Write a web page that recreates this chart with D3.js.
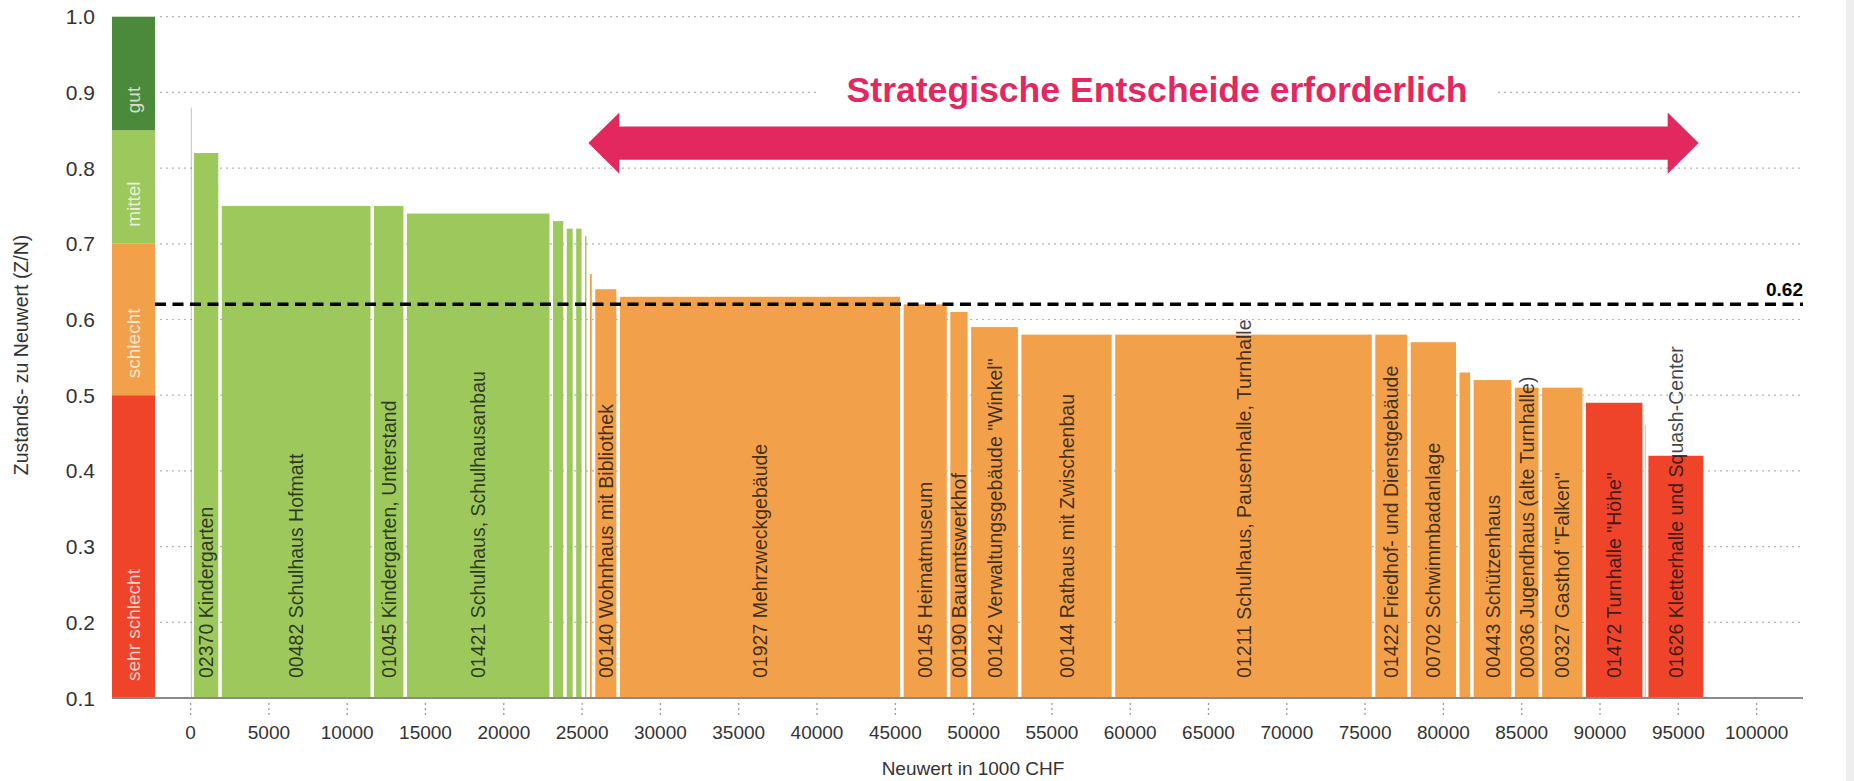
<!DOCTYPE html>
<html>
<head>
<meta charset="utf-8">
<script src="https://cdn.jsdelivr.net/npm/d3@7"></script>
<style>
  body { margin: 0; background: #fff; }
  svg { display: block; font-family: "Liberation Sans", Arial, sans-serif; }
</style>
</head>
<body>
<svg width="1854" height="781"></svg>
<script>
// Objekte, sortiert nach Zustands- zu Neuwert
const names = ["", "02370 Kindergarten", "00482 Schulhaus Hofmatt", "01045 Kindergarten, Unterstand",
  "01421 Schulhaus, Schulhausanbau", "", "", "", "", "", "00140 Wohnhaus mit Bibliothek",
  "01927 Mehrzweckgebäude", "00145 Heimatmuseum", "00190 Bauamtswerkhof",
  "00142 Verwaltungsgebäude \"Winkel\"", "00144 Rathaus mit Zwischenbau",
  "01211 Schulhaus, Pausenhalle, Turnhalle", "01422 Friedhof- und Dienstgebäude",
  "00702 Schwimmbadanlage", "", "00443 Schützenhaus", "00036 Jugendhaus (alte Turnhalle)",
  "00327 Gasthof \"Falken\"", "01472 Turnhalle \"Höhe\"", "", "01626 Kletterhalle und Squash-Center"];
// Neuwert in 1000 CHF
const neuwert = [100, 1780, 9720, 2100, 9330, 880, 600, 565, 315, 340, 1570, 18120, 2980, 1330,
  3210, 5990, 16610, 2260, 3120, 900, 2630, 1740, 2800, 3830, 160, 3730];
// Zustands- zu Neuwert (Z/N)
const zn = [0.88, 0.82, 0.75, 0.75, 0.74, 0.73, 0.72, 0.72, 0.71, 0.66, 0.64, 0.63, 0.62, 0.61,
  0.59, 0.58, 0.58, 0.58, 0.57, 0.53, 0.52, 0.51, 0.51, 0.49, 0.46, 0.42];

// Zustandsklassen
const classNames = ["sehr schlecht", "schlecht", "mittel", "gut"];
const classBounds = [0.1, 0.5, 0.7, 0.85, 1.0];
const classColors = ["#ef4429", "#f3a04a", "#9dc95c", "#4c8a3b"];

const avgValue = 0.62;
const xTicks = d3.range(0, 100001, 5000);
const yTicks = [0.1, 0.2, 0.3, 0.4, 0.5, 0.6, 0.7, 0.8, 0.9, 1.0];
const arrowFrom = 25400, arrowTo = 96300, arrowLevel = 0.833;
const title = "Strategische Entscheide erforderlich";
const pink = "#e3285f";

const svg = d3.select("svg");
const x = d3.scaleLinear().domain([0, 100000]).range([190.6, 1756.6]);
const y = d3.scaleLinear().domain([0.1, 1.0]).range([698, 16.7]);
const color = d3.scaleThreshold().domain(classBounds.slice(1, 4)).range(classColors);
const plotRight = 1803;

// build bars with cumulative start
let acc = 0;
const bars = names.map((n, i) => {
  const b = { name: n, x0: acc, x1: acc + neuwert[i], v: zn[i] };
  acc += neuwert[i];
  return b;
});

// right border strip
svg.append("rect").attr("x", 1846).attr("y", 0).attr("width", 8).attr("height", 781).attr("fill", "#eeeeee");

// gridlines
svg.append("g").selectAll("line")
  .data(yTicks.slice(1))
  .enter().append("line")
  .attr("x1", 160).attr("x2", plotRight)
  .attr("y1", d => y(d)).attr("y2", d => y(d))
  .attr("stroke", "#b5b5b5").attr("stroke-width", 1.2)
  .attr("stroke-dasharray", "2,4");

// legend column
const legend = svg.append("g");
classNames.forEach((c, i) => {
  legend.append("rect")
    .attr("x", 112).attr("width", 43)
    .attr("y", y(classBounds[i + 1]))
    .attr("height", y(classBounds[i]) - y(classBounds[i + 1]))
    .attr("fill", classColors[i]);
  legend.append("text")
    .attr("transform", `translate(133.5,${y(classBounds[i]) - 17}) rotate(-90)`)
    .attr("dy", "0.35em")
    .attr("fill", "#fff").attr("fill-opacity", 0.75)
    .attr("font-size", 19)
    .text(c);
});

// bars
const gap = 3.5;
svg.append("g").selectAll("rect")
  .data(bars)
  .enter().append("rect")
  .attr("x", d => {
    const w = x(d.x1) - x(d.x0);
    return w > gap + 1 ? x(d.x0) + gap / 2 : x(d.x0) + w / 2 - 0.6;
  })
  .attr("width", d => {
    const w = x(d.x1) - x(d.x0);
    return w > gap + 1 ? w - gap : 1.2;
  })
  .attr("y", d => y(d.v))
  .attr("height", d => y(0.1) - y(d.v))
  .attr("fill", d => color(d.v))
  .attr("fill-opacity", d => (x(d.x1) - x(d.x0) > gap + 1 ? 1 : 0.35));

// bar labels
svg.append("g").selectAll("text")
  .data(bars.filter(d => d.name))
  .enter().append("text")
  .attr("transform", d => `translate(${(x(d.x0) + x(d.x1)) / 2},678) rotate(-90)`)
  .attr("dy", "0.36em")
  .attr("font-size", 19.5)
  .attr("fill", "#111").attr("fill-opacity", 0.8)
  .text(d => d.name);

// x axis
svg.append("line")
  .attr("x1", 112).attr("x2", plotRight)
  .attr("y1", y(0.1)).attr("y2", y(0.1))
  .attr("stroke", "#8a8a8a").attr("stroke-width", 2);

const xAxis = svg.append("g");
xAxis.selectAll("line")
  .data(xTicks)
  .enter().append("line")
  .attr("x1", d => x(d)).attr("x2", d => x(d))
  .attr("y1", 703).attr("y2", 718)
  .attr("stroke", "#999").attr("stroke-width", 1.3)
  .attr("stroke-dasharray", "2,3");
xAxis.selectAll("text")
  .data(xTicks)
  .enter().append("text")
  .attr("x", d => x(d)).attr("y", 739)
  .attr("text-anchor", "middle")
  .attr("font-size", 19).attr("fill", "#333")
  .text(d => d);

svg.append("text")
  .attr("x", 973).attr("y", 775)
  .attr("text-anchor", "middle")
  .attr("font-size", 19).attr("fill", "#333")
  .text("Neuwert in 1000 CHF");

// y axis labels
svg.append("g").selectAll("text")
  .data(yTicks)
  .enter().append("text")
  .attr("x", 95).attr("y", d => y(d))
  .attr("dy", "0.36em")
  .attr("text-anchor", "end")
  .attr("font-size", 21).attr("fill", "#333")
  .text(d => d.toFixed(1));

svg.append("text")
  .attr("transform", "translate(21,355) rotate(-90)")
  .attr("text-anchor", "middle")
  .attr("dy", "0.35em")
  .attr("font-size", 19.5).attr("fill", "#333")
  .text("Zustands- zu Neuwert (Z/N)");

// average line
svg.append("line")
  .attr("x1", 155).attr("x2", plotRight)
  .attr("y1", y(avgValue)).attr("y2", y(avgValue))
  .attr("stroke", "#000").attr("stroke-width", 3.5)
  .attr("stroke-dasharray", "11,6.5");
svg.append("text")
  .attr("x", plotRight).attr("y", y(avgValue) - 8)
  .attr("text-anchor", "end")
  .attr("font-size", 19).attr("font-weight", "bold")
  .text(avgValue.toFixed(2));

// annotation: double arrow + title
const ay = y(arrowLevel), ax0 = x(arrowFrom), ax1 = x(arrowTo);
const shaft = 16.6, head = 30.7, headLen = 31;
const arrowPts = [
  [ax0, ay], [ax0 + headLen, ay - head], [ax0 + headLen, ay - shaft],
  [ax1 - headLen, ay - shaft], [ax1 - headLen, ay - head], [ax1, ay],
  [ax1 - headLen, ay + head], [ax1 - headLen, ay + shaft],
  [ax0 + headLen, ay + shaft], [ax0 + headLen, ay + head]
];
svg.append("path")
  .attr("d", d3.line()(arrowPts) + "Z")
  .attr("fill", pink);

const titleText = svg.append("text")
  .attr("x", 1157).attr("y", 102)
  .attr("text-anchor", "middle")
  .attr("font-size", 35.6).attr("font-weight", "bold")
  .attr("fill", pink)
  .text(title);
const bb = titleText.node().getBBox();
svg.insert("rect", () => titleText.node())
  .attr("x", bb.x - 30).attr("y", bb.y)
  .attr("width", bb.width + 60).attr("height", bb.height)
  .attr("fill", "#fff");
</script>
</body>
</html>
